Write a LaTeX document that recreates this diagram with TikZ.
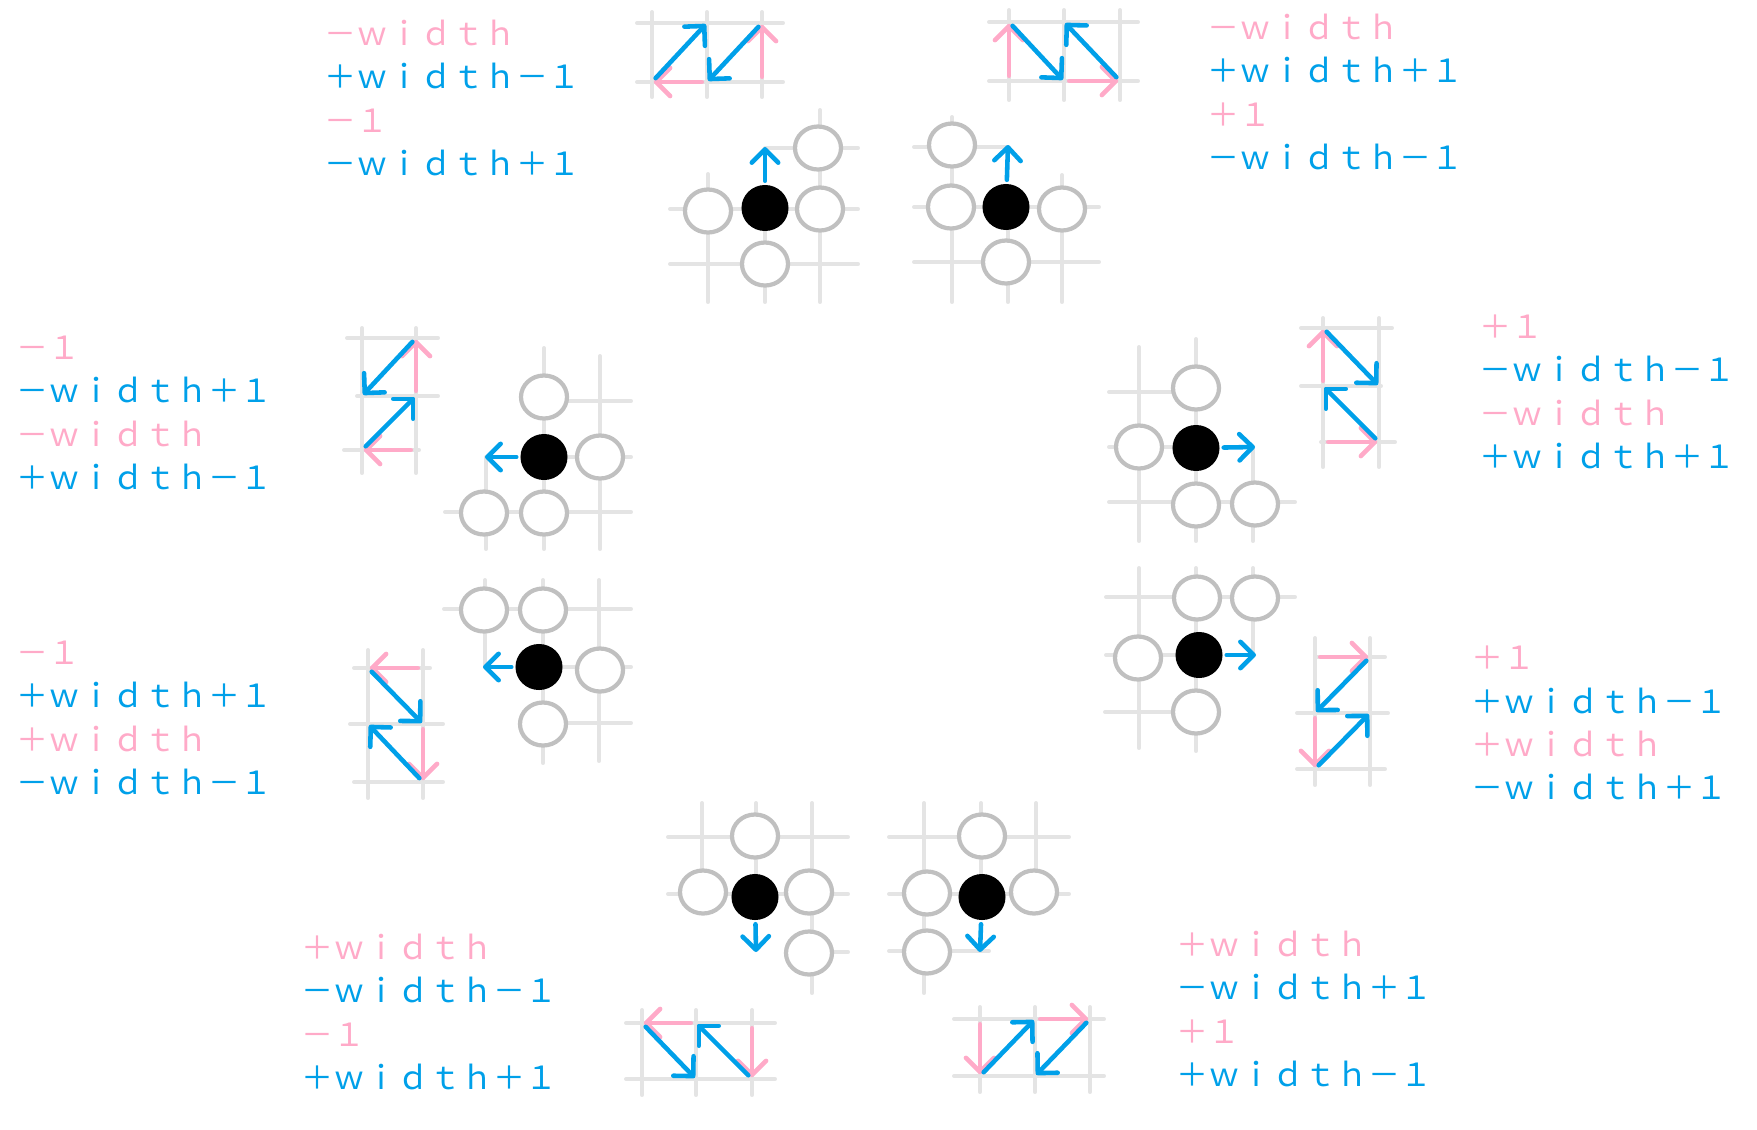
\documentclass[tikz,border=0pt]{standalone}
\usepackage{fontspec}
\usepackage{xcolor}
\usepackage{tikz}
\usetikzlibrary{shapes.geometric,arrows.meta,positioning,calc}
\newfontfamily\jpfont{Noto Sans CJK JP}
\definecolor{pinkc}{RGB}{255,170,200}
\definecolor{bluec}{RGB}{0,160,233}
\definecolor{gridc}{RGB}{228,228,228}
\definecolor{stonec}{RGB}{192,192,192}
\newcommand{\pinkline}[1]{\textcolor{pinkc}{#1}}
\newcommand{\blueline}[1]{\textcolor{bluec}{#1}}

\begin{document}
\begin{tikzpicture}[x=0.01cm,y=-0.01cm,line join=round,line cap=round,
    gridline/.style={gridc,line width=1.15pt},
    white stone/.style={ellipse,draw=stonec,line width=1.2pt,fill=white,minimum width=0.46cm,minimum height=0.43cm,inner sep=0pt},
    black stone/.style={ellipse,fill=black,minimum width=0.47cm,minimum height=0.46cm,inner sep=0pt},
    pinkarrow/.style={pinkc,line width=1.3pt,-{Straight Barb[round,length=4pt,width=8pt]},shorten <=1.5pt,shorten >=0.5pt},
    bluearrow/.style={bluec,line width=1.3pt,-{Straight Barb[round,length=4pt,width=8pt]},shorten <=1.5pt,shorten >=0.5pt},
    movearrow/.style={bluec,line width=1.3pt,-{Straight Barb[round,length=3.8pt,width=7.5pt]},shorten <=1pt},
    offsets/.style={font=\jpfont\fontsize{9.1pt}{12.3pt}\selectfont,align=left,anchor=west,inner sep=0pt}]
      \useasboundingbox (0,0) rectangle (1757,1130);

      % top left
      \coordinate (tla1) at (652,23); \coordinate (tla2) at (707,23); \coordinate (tla3) at (762,23);
      \coordinate (tlb1) at (652,82); \coordinate (tlb2) at (707,82); \coordinate (tlb3) at (762,82);
      \draw[gridline] (652,12)--(652,97) (707,12)--(707,97) (762,12)--(762,97) (637,23)--(783,23) (637,82)--(783,82);
      \draw[pinkarrow] (tlb3)--(tla3);
      \draw[bluearrow] (tla3)--(tlb2);
      \draw[pinkarrow] (tlb2)--(tlb1);
      \draw[bluearrow] (tlb1)--(tla2);
      \draw[gridline] (708,174)--(708,302) (765,209)--(765,302) (820,110)--(820,302) (765,148)--(858,148) (670,209)--(858,209) (670,264)--(858,264);
      \node[white stone] (tlw1) at (708,211) {};
      \node[white stone] (tlw2) at (820,209) {};
      \node[white stone] (tlw3) at (765,264) {};
      \node[white stone] (tlw4) at (818,148) {};
      \node[black stone] (tlk) at (765,208) {};
      \coordinate (tlm) at (765,147);
      \draw[movearrow] (tlk)--(tlm);
      \node[offsets] (tlt) at (324,98) {\pinkline{－ｗｉｄｔｈ}\\\blueline{＋ｗｉｄｔｈ－１}\\\pinkline{－１}\\\blueline{－ｗｉｄｔｈ＋１}};

      % top right
      \coordinate (tra1) at (1009,22); \coordinate (tra2) at (1064,22); \coordinate (tra3) at (1120,22);
      \coordinate (trb1) at (1009,81); \coordinate (trb2) at (1064,81); \coordinate (trb3) at (1120,81);
      \draw[gridline] (1009,10)--(1009,100) (1064,10)--(1064,100) (1120,10)--(1120,100) (989,22)--(1138,22) (989,81)--(1138,81);
      \draw[pinkarrow] (trb1)--(tra1);
      \draw[bluearrow] (tra1)--(trb2);
      \draw[pinkarrow] (trb2)--(trb3);
      \draw[bluearrow] (trb3)--(tra2);
      \draw[gridline] (952,117)--(952,302) (1008,207)--(1008,302) (1062,175)--(1062,302) (914,147)--(1008,147) (914,207)--(1099,207) (914,262)--(1099,262);
      \node[white stone] (trw1) at (952,145) {};
      \node[white stone] (trw2) at (951,207) {};
      \node[white stone] (trw3) at (1062,209) {};
      \node[white stone] (trw4) at (1006,262) {};
      \node[black stone] (trk) at (1006,207) {};
      \coordinate (trm) at (1008,145);
      \draw[movearrow] (trk)--(trm);
      \node[offsets] (trt) at (1207,92) {\pinkline{－ｗｉｄｔｈ}\\\blueline{＋ｗｉｄｔｈ＋１}\\\pinkline{＋１}\\\blueline{－ｗｉｄｔｈ－１}};

      % left upper
      \coordinate (lua1) at (362,338); \coordinate (lua2) at (416,338);
      \coordinate (lub1) at (362,396); \coordinate (lub2) at (416,396);
      \coordinate (luc1) at (362,450); \coordinate (luc2) at (416,450);
      \draw[gridline] (362,328)--(362,473) (416,328)--(416,473) (347,338)--(438,338) (357,396)--(438,396) (344,450)--(419,450);
      \draw[pinkarrow] (luc2)--(luc1);
      \draw[bluearrow] (luc1)--(lub2);
      \draw[pinkarrow] (lub2)--(lua2);
      \draw[bluearrow] (lua2)--(lub1);
      \draw[gridline] (486,457)--(486,549) (544,348)--(544,549) (600,356)--(600,549) (544,401)--(631,401) (544,457)--(631,457) (445,512)--(631,512);
      \node[white stone] (luw1) at (544,397) {};
      \node[white stone] (luw2) at (600,457) {};
      \node[white stone] (luw3) at (484,513) {};
      \node[white stone] (luw4) at (544,513) {};
      \node[black stone] (luk) at (544,457) {};
      \coordinate (lum) at (485,457);
      \draw[movearrow] (luk)--(lum);
      \node[offsets] (lut) at (16,413) {\pinkline{－１}\\\blueline{－ｗｉｄｔｈ＋１}\\\pinkline{－ｗｉｄｔｈ}\\\blueline{＋ｗｉｄｔｈ－１}};

      % right upper
      \coordinate (rua1) at (1323,328); \coordinate (rua2) at (1379,328);
      \coordinate (rub1) at (1323,386); \coordinate (rub2) at (1379,386);
      \coordinate (ruc1) at (1323,442); \coordinate (ruc2) at (1379,442);
      \draw[gridline] (1323,318)--(1323,467) (1379,318)--(1379,467) (1301,328)--(1392,328) (1301,386)--(1381,386) (1321,442)--(1395,442);
      \draw[pinkarrow] (ruc1)--(ruc2);
      \draw[bluearrow] (ruc2)--(rub1);
      \draw[pinkarrow] (rub1)--(rua1);
      \draw[bluearrow] (rua1)--(rub2);
      \draw[gridline] (1139,347)--(1139,541) (1196,339)--(1196,541) (1253,447)--(1253,541) (1109,392)--(1196,392) (1109,447)--(1196,447) (1109,502)--(1295,502);
      \node[white stone] (ruw1) at (1196,388) {};
      \node[white stone] (ruw2) at (1139,447) {};
      \node[white stone] (ruw3) at (1196,505) {};
      \node[white stone] (ruw4) at (1255,504) {};
      \node[black stone] (ruk) at (1196,448) {};
      \coordinate (rum) at (1255,447);
      \draw[movearrow] (ruk)--(rum);
      \node[offsets] (rut) at (1479,392) {\pinkline{＋１}\\\blueline{－ｗｉｄｔｈ－１}\\\pinkline{－ｗｉｄｔｈ}\\\blueline{＋ｗｉｄｔｈ＋１}};

      % left lower
      \coordinate (lla1) at (368,668); \coordinate (lla2) at (423,668);
      \coordinate (llb1) at (368,724); \coordinate (llb2) at (423,724);
      \coordinate (llc1) at (368,782); \coordinate (llc2) at (423,782);
      \draw[gridline] (368,650)--(368,798) (423,650)--(423,798) (354,668)--(430,668) (350,724)--(443,724) (354,782)--(443,782);
      \draw[pinkarrow] (lla2)--(lla1);
      \draw[bluearrow] (lla1)--(llb2);
      \draw[pinkarrow] (llb2)--(llc2);
      \draw[bluearrow] (llc2)--(llb1);
      \draw[gridline] (485,580)--(485,667) (543,580)--(543,763) (599,580)--(599,761) (444,609)--(631,609) (543,667)--(631,667) (543,723)--(631,723);
      \node[white stone] (llw1) at (484,610) {};
      \node[white stone] (llw2) at (543,610) {};
      \node[white stone] (llw3) at (600,670) {};
      \node[white stone] (llw4) at (543,724) {};
      \node[black stone] (llk) at (539,667) {};
      \coordinate (llm) at (483,667);
      \draw[movearrow] (llk)--(llm);
      \node[offsets] (llt) at (16,718) {\pinkline{－１}\\\blueline{＋ｗｉｄｔｈ＋１}\\\pinkline{＋ｗｉｄｔｈ}\\\blueline{－ｗｉｄｔｈ－１}};

      % right lower
      \coordinate (rla1) at (1315,657); \coordinate (rla2) at (1370,657);
      \coordinate (rlb1) at (1315,713); \coordinate (rlb2) at (1370,713);
      \coordinate (rlc1) at (1315,769); \coordinate (rlc2) at (1370,769);
      \draw[gridline] (1315,638)--(1315,785) (1370,638)--(1370,785) (1315,657)--(1385,657) (1297,713)--(1388,713) (1297,769)--(1385,769);
      \draw[pinkarrow] (rla1)--(rla2);
      \draw[bluearrow] (rla2)--(rlb1);
      \draw[pinkarrow] (rlb1)--(rlc1);
      \draw[bluearrow] (rlc1)--(rlb2);
      \draw[gridline] (1139,568)--(1139,748) (1196,568)--(1196,751) (1253,568)--(1253,655) (1106,597)--(1295,597) (1106,655)--(1196,655) (1105,712)--(1196,712);
      \node[white stone] (rlw1) at (1197,598) {};
      \node[white stone] (rlw2) at (1255,598) {};
      \node[white stone] (rlw3) at (1138,658) {};
      \node[white stone] (rlw4) at (1196,712) {};
      \node[black stone] (rlk) at (1199,655) {};
      \coordinate (rlm) at (1256,655);
      \draw[movearrow] (rlk)--(rlm);
      \node[offsets] (rlt) at (1471,723) {\pinkline{＋１}\\\blueline{＋ｗｉｄｔｈ－１}\\\pinkline{＋ｗｉｄｔｈ}\\\blueline{－ｗｉｄｔｈ＋１}};

      % bottom left
      \coordinate (bla1) at (642,1023); \coordinate (bla2) at (696,1023); \coordinate (bla3) at (752,1023);
      \coordinate (blb1) at (642,1079); \coordinate (blb2) at (696,1079); \coordinate (blb3) at (752,1079);
      \draw[gridline] (642,1010)--(642,1095) (696,1010)--(696,1095) (752,1010)--(752,1095) (626,1023)--(775,1023) (626,1079)--(775,1079);
      \draw[pinkarrow] (bla3)--(blb3);
      \draw[bluearrow] (blb3)--(bla2);
      \draw[pinkarrow] (bla2)--(bla1);
      \draw[bluearrow] (bla1)--(blb2);
      \draw[gridline] (702,803)--(702,894) (756,803)--(756,894) (812,803)--(812,993) (668,837)--(848,837) (668,894)--(848,894) (809,952)--(848,952);
      \node[white stone] (blw1) at (755,836) {};
      \node[white stone] (blw2) at (703,892) {};
      \node[white stone] (blw3) at (809,892) {};
      \node[white stone] (blw4) at (809,953) {};
      \node[black stone] (blk) at (755,897) {};
      \coordinate (blm) at (756,952);
      \draw[movearrow] (blk)--(blm);
      \node[offsets] (blt) at (301,1012) {\pinkline{＋ｗｉｄｔｈ}\\\blueline{－ｗｉｄｔｈ－１}\\\pinkline{－１}\\\blueline{＋ｗｉｄｔｈ＋１}};

      % bottom right
      \coordinate (bra1) at (980,1019); \coordinate (bra2) at (1035,1019); \coordinate (bra3) at (1090,1019);
      \coordinate (brb1) at (980,1076); \coordinate (brb2) at (1035,1076); \coordinate (brb3) at (1090,1076);
      \draw[gridline] (980,1007)--(980,1092) (1035,1007)--(1035,1092) (1090,1007)--(1090,1092) (954,1019)--(1104,1019) (954,1076)--(1104,1076);
      \draw[pinkarrow] (bra1)--(brb1);
      \draw[bluearrow] (brb1)--(bra2);
      \draw[pinkarrow] (bra2)--(bra3);
      \draw[bluearrow] (bra3)--(brb2);
      \draw[gridline] (924,803)--(924,993) (981,803)--(981,894) (1036,803)--(1036,894) (889,837)--(1069,837) (889,894)--(1069,894) (889,951)--(989,951);
      \node[white stone] (brw1) at (982,836) {};
      \node[white stone] (brw2) at (927,893) {};
      \node[white stone] (brw3) at (1034,892) {};
      \node[white stone] (brw4) at (927,952) {};
      \node[black stone] (brk) at (982,897) {};
      \coordinate (brm) at (980,952);
      \draw[movearrow] (brk)--(brm);
      \node[offsets] (brt) at (1176,1009) {\pinkline{＋ｗｉｄｔｈ}\\\blueline{－ｗｉｄｔｈ＋１}\\\pinkline{＋１}\\\blueline{＋ｗｉｄｔｈ－１}};
    \end{tikzpicture}
\end{document}
